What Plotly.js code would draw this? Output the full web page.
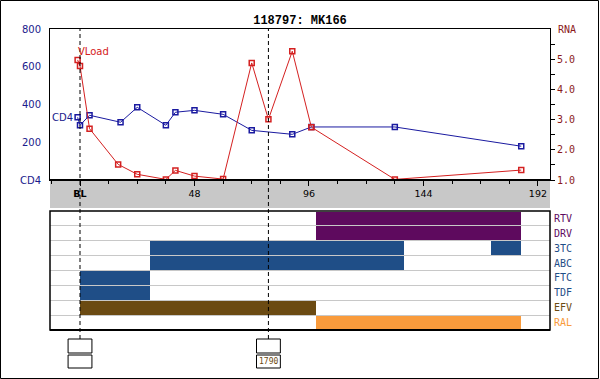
<!DOCTYPE html>
<html>
<head>
<meta charset="utf-8">
<script src="https://cdn.plot.ly/plotly-3.0.1.min.js"></script>
<style>
html,body{margin:0;padding:0;background:#fff;}
#chart{width:600px;height:379px;}
</style>
</head>
<body>
<div id="chart"></div>
<script>
// ---- data ----
const chartTitle = '118797: MK166';
const cd4Weeks = [-1, 0, 4, 17, 24, 36, 40, 48, 60, 72, 89, 97, 132, 185];
const cd4Values = [332, 290, 343, 306, 385, 290, 359, 369, 348, 263, 242, 281, 281, 179];
const rnaWeeks = [-1, 0, 4, 16, 24, 36, 40, 48, 60, 72, 79, 89, 97, 132, 185];
const rnaValues = [5.0, 4.8, 2.71, 1.52, 1.19, 1.02, 1.32, 1.13, 1.03, 4.9, 3.02, 5.29, 2.76, 1.02, 1.33];
const xTickVals = [0, 48, 96, 144, 192];
const xTickText = ['<b>BL</b>', '48', '96', '144', '192'];
const cd4TickVals = [0, 200, 400, 600, 800];
const cd4TickText = ['CD4', '200', '400', '600', '800'];
const rnaTickVals = [1, 2, 3, 4, 5];
const rnaTickText = ['1.0', '2.0', '3.0', '4.0', '5.0'];
const drugs = ['RTV', 'DRV', '3TC', 'ABC', 'FTC', 'TDF', 'EFV', 'RAL'];
const drugColors = ['#5e0a5e', '#5e0a5e', '#1f4e87', '#1f4e87', '#1f4e87', '#1f4e87', '#6b4a12', '#f99b3c'];
const segDrug  = ['RTV', 'DRV', '3TC', '3TC', 'ABC', 'FTC', 'TDF', 'EFV', 'RAL'];
const segStart = [99, 99, 29.5, 172.5, 29.5, 0, 0, 0, 99];
const segEnd   = [185, 185, 136, 185, 136, 29.5, 29.5, 99, 185];
const eventWeeks = [0, 79];
const eventLabels = ['', '1790'];

// ---- geometry helpers (paper fractions) ----
const H = 379, T = 29, B = 49, PH = H - T - B;
const py = y => (H - B - y) / PH;
const px = x => (x - 50) / 500;

const rowOf = d => drugs.length - 0.5 - drugs.indexOf(d);

const traces = [
  {x: cd4Weeks, y: cd4Values, xaxis: 'x', yaxis: 'y', type: 'scatter', mode: 'lines+markers',
   line: {color: '#1a1aa0', width: 1}, marker: {symbol: 'square-open', size: 5, color: '#1a1aa0', line: {width: 1.5}}},
  {x: rnaWeeks, y: rnaValues, xaxis: 'x', yaxis: 'y2', type: 'scatter', mode: 'lines+markers',
   line: {color: '#d42020', width: 1}, marker: {symbol: 'square-open', size: 5, color: '#d42020', line: {width: 1.5}}},
  {type: 'bar', orientation: 'h', xaxis: 'x', yaxis: 'y3',
   y: segDrug.map(rowOf), base: segStart, x: segEnd.map((e, i) => e - segStart[i]),
   width: 0.92, marker: {color: segDrug.map(d => drugColors[drugs.indexOf(d)]), line: {width: 0}}}
];

const shapes = [];
shapes.push({type: 'rect', xref: 'paper', yref: 'paper', x0: 0, x1: 1, y0: py(208), y1: py(180),
  fillcolor: '#c8c8c8', line: {width: 0}, layer: 'below'});
shapes.push({type: 'line', xref: 'paper', yref: 'paper', x0: 0, x1: 1, y0: py(180), y1: py(180),
  line: {color: '#000', width: 2}});
shapes.push({type: 'rect', xref: 'paper', yref: 'paper', x0: 0, x1: 1, y0: 0, y1: py(211),
  line: {color: '#000', width: 1.5}, layer: 'above'});
shapes.push({type: 'line', xref: 'paper', yref: 'paper', x0: 0, x1: 1, y0: 0, y1: 0,
  line: {color: '#000', width: 2}});
eventWeeks.forEach(w => {
  shapes.push({type: 'line', xref: 'x', yref: 'paper', x0: w, x1: w, y0: py(339), y1: 1,
    line: {color: '#000', width: 1, dash: '4px,3px'}, layer: 'above'});
  shapes.push({type: 'rect', xref: 'x', yref: 'paper', x0: w - 5, x1: w + 5, y0: py(353), y1: py(339),
    fillcolor: '#fff', line: {color: '#000', width: 1}});
  shapes.push({type: 'rect', xref: 'x', yref: 'paper', x0: w - 5, x1: w + 5, y0: py(368), y1: py(355),
    fillcolor: '#fff', line: {color: '#000', width: 1}});
});
shapes.push({type: 'rect', xref: 'paper', yref: 'paper', x0: px(0.5), x1: px(598.5), y0: py(378.5), y1: py(0.5),
  line: {color: '#000', width: 1}});

const annotations = [];
drugs.forEach((d, i) => {
  annotations.push({xref: 'paper', yref: 'y3', x: px(552), y: rowOf(d), text: d, showarrow: false,
    xanchor: 'left', yanchor: 'middle', font: {family: 'DejaVu Sans Mono', size: 10, color: drugColors[i]}});
});
eventWeeks.forEach((w, i) => {
  if (eventLabels[i]) annotations.push({xref: 'x', yref: 'paper', x: w, y: py(361.5), text: eventLabels[i],
    showarrow: false, xanchor: 'center', yanchor: 'middle', font: {family: 'DejaVu Sans Mono', size: 8, color: '#6b4a12'}});
});
annotations.push({xref: 'paper', yref: 'paper', x: px(76), y: py(52), text: 'VLoad', showarrow: false,
  xanchor: 'left', yanchor: 'middle', font: {family: 'DejaVu Sans', size: 10, color: '#d42020'}});
annotations.push({xref: 'paper', yref: 'paper', x: px(75), y: py(117), text: 'CD4', showarrow: false,
  xanchor: 'right', yanchor: 'middle', font: {family: 'DejaVu Sans', size: 10, color: '#1a1a8c'}});
annotations.push({xref: 'paper', yref: 'paper', x: px(556), y: py(29), text: 'RNA', showarrow: false,
  xanchor: 'left', yanchor: 'middle', font: {family: 'DejaVu Sans Mono', size: 10, color: '#8b1a1a'}});

const layout = {
  width: 600, height: 379,
  margin: {l: 50, r: 50, t: T, b: B, pad: 0},
  paper_bgcolor: '#fff', plot_bgcolor: '#fff',
  showlegend: false,
  title: {text: '<b>' + chartTitle + '</b>', x: 0.5, xanchor: 'center', y: 1 - 20 / H, yref: 'container', yanchor: 'middle',
    font: {family: 'Liberation Mono', size: 12, color: '#000'}},
  xaxis: {range: [-12.58, 197.06], anchor: 'y', showgrid: false, zeroline: false,
    showline: true, linecolor: '#000', linewidth: 1, mirror: true,
    tickmode: 'array', tickvals: xTickVals, ticktext: xTickText,
    ticks: 'outside', ticklen: 5, tickcolor: '#000',
    minor: {tickmode: 'linear', tick0: 0, dtick: 12, ticks: 'outside', ticklen: 3, tickcolor: '#000', showgrid: false},
    tickfont: {family: 'DejaVu Sans', size: 9.5, color: '#000'}},
  yaxis: {domain: [py(180), 1], range: [0, 800], showgrid: false, zeroline: false,
    showline: true, linecolor: '#000', linewidth: 1,
    tickmode: 'array', tickvals: cd4TickVals, ticktext: cd4TickText,
    ticks: 'outside', ticklen: 6, tickcolor: 'rgba(0,0,0,0)',
    tickfont: {family: 'DejaVu Sans', size: 10, color: '#1a1a8c'}},
  yaxis2: {overlaying: 'y', side: 'right', anchor: 'x', range: [1, 6.03], showgrid: false, zeroline: false,
    showline: true, linecolor: '#000', linewidth: 1,
    tickmode: 'array', tickvals: rnaTickVals, ticktext: rnaTickText,
    ticks: 'outside', ticklen: 4, tickcolor: '#000',
    minor: {tickmode: 'linear', tick0: 1.5, dtick: 1, ticks: 'outside', ticklen: 4, tickcolor: '#000', showgrid: false},
    tickfont: {family: 'DejaVu Sans Mono', size: 10, color: '#8b1a1a'}},
  yaxis3: {domain: [0, py(211)], range: [0, drugs.length], anchor: 'x', zeroline: false,
    showticklabels: false, ticks: '', showline: false,
    tickmode: 'linear', tick0: 0, dtick: 1, showgrid: true, gridcolor: '#c8c8c8', gridwidth: 1},
  shapes: shapes,
  annotations: annotations,
  bargap: 0
};

Plotly.newPlot('chart', traces, layout, {staticPlot: true, displayModeBar: false});
</script>
</body>
</html>
